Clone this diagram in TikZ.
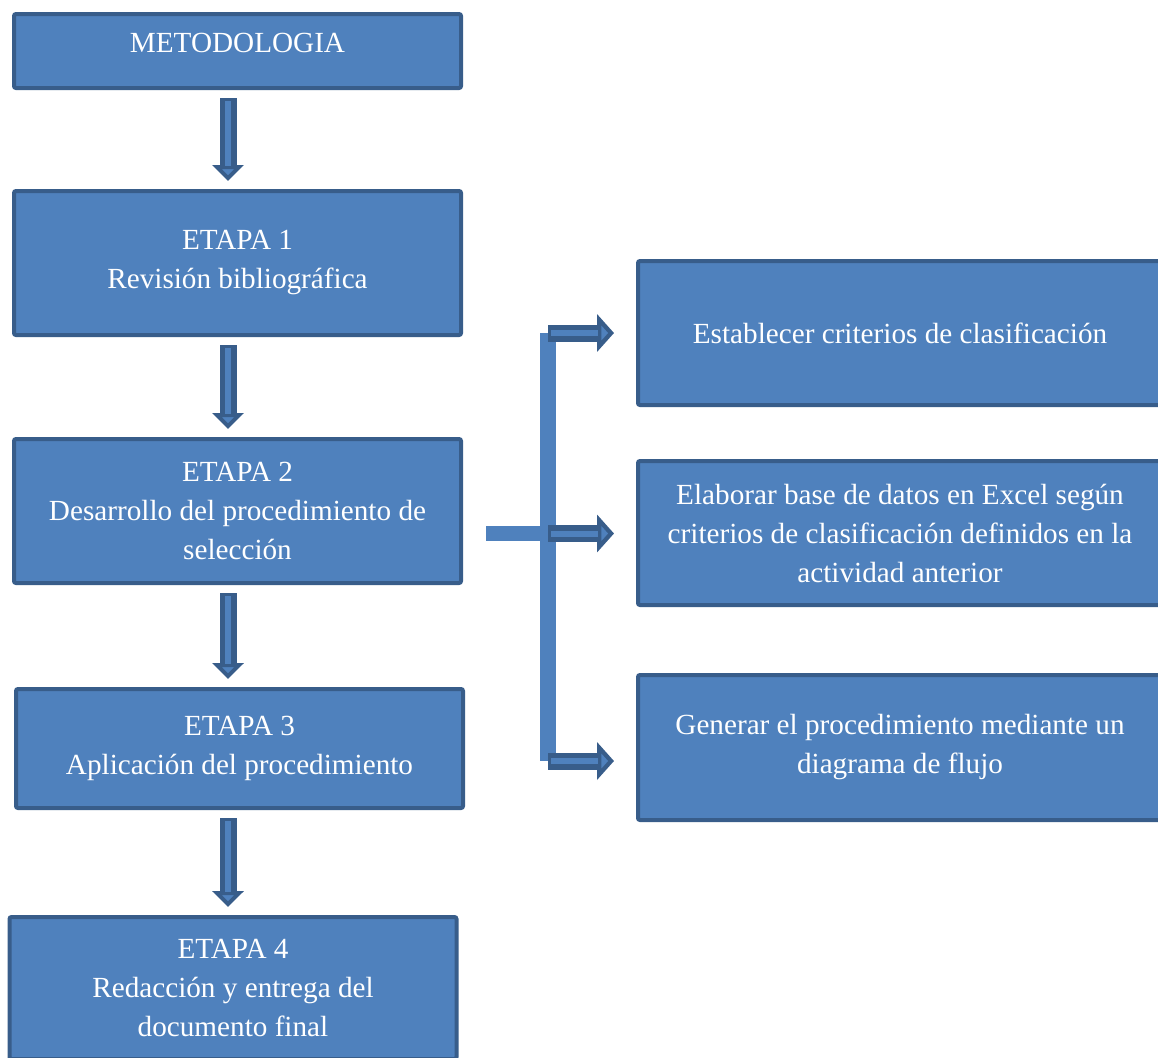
\documentclass[tikz,border=0pt]{standalone}
\usepackage{fontspec}
\setmainfont{Liberation Serif}
\usetikzlibrary{arrows.meta,positioning}
\definecolor{boxblue}{RGB}{79,129,189}
\definecolor{edgeblue}{RGB}{56,93,138}
\begin{document}
\begin{tikzpicture}[x=0.5pt, y=-0.5pt, font=\fontsize{14.6}{19.5}\selectfont,
      box/.style={draw=edgeblue, fill=boxblue, line width=2pt, rounded corners=1pt, text=white, align=center,
        minimum width=223.5pt, minimum height=72pt, inner sep=2pt},
      side/.style={box, minimum width=262pt},
      blk/.style={draw=edgeblue, line width=8.5pt, shorten <=4pt, shorten >=4pt,
        -{Triangle[length=8pt, width=15.5pt, fill=boxblue, line width=2.2pt]},
        postaction={draw=boxblue, line width=3pt, shorten <=5.5pt, shorten >=11.5pt, -}},
      blkr/.style={draw=edgeblue, line width=8.5pt, shorten >=11pt,
        -{Triangle[length=8.5pt, width=18.5pt, fill=boxblue, line width=2.2pt]},
        postaction={draw=boxblue, line width=3pt, shorten <=1.5pt, shorten >=19pt, -}},
      bar/.style={draw=boxblue, line width=8pt}]
    \useasboundingbox (0,0) rectangle (1158,1057);
    \clip (0,0) rectangle (1158,1057);
    \node[box, minimum height=37pt, text depth=8pt] (meto) at (237.5,51) {METODOLOGIA};
    \node[box, below=49.5pt of meto] (e1) {ETAPA 1\\Revisión bibliográfica};
    \node[box, below=50pt of e1] (e2) {ETAPA 2\\Desarrollo del procedimiento de\\selección};
    \node[box, below=51pt of e2, xshift=1pt, minimum height=59.5pt] (e3) {ETAPA 3\\Aplicación del procedimiento};
    \node[box, below=52.5pt of e3, xshift=-3.25pt, minimum height=71pt] (e4) {ETAPA 4\\Redacción y entrega del\\documento final};
    \node[side] (r1) at (900,333) {Establecer criterios de clasificación};
    \node[side, below=26pt of r1] (r2) {Elaborar base de datos en Excel según\\criterios de clasificación definidos en la\\actividad anterior};
    \node[side, below=33pt of r2, minimum height=72.5pt] (r3) {Generar el procedimiento mediante un\\diagrama de flujo};
    % down arrows
    \coordinate (ax) at (228,0);
    \draw[blk] (meto.south -| ax) -- (e1.north -| ax);
    \draw[blk] (e1.south -| ax) -- (e2.north -| ax);
    \draw[blk] (e2.south -| ax) -- (e3.north -| ax);
    \draw[blk] (e3.south -| ax) -- (e4.north -| ax);
    % bracket to the activities
    \coordinate (bt) at (548,333);
    \coordinate (split) at (548,533.5);
    \coordinate (bb) at (548,761);
    \draw[bar] (bt) -- (bb);
    \draw[bar, line width=7.5pt] ([xshift=11.5pt]e2.east |- split) -- (split);
    \draw[blkr] (bt) -- (bt -| r1.west);
    \draw[blkr] (split) -- (split -| r2.west);
    \draw[blkr] (bb) -- (bb -| r3.west);
\end{tikzpicture}
\end{document}
